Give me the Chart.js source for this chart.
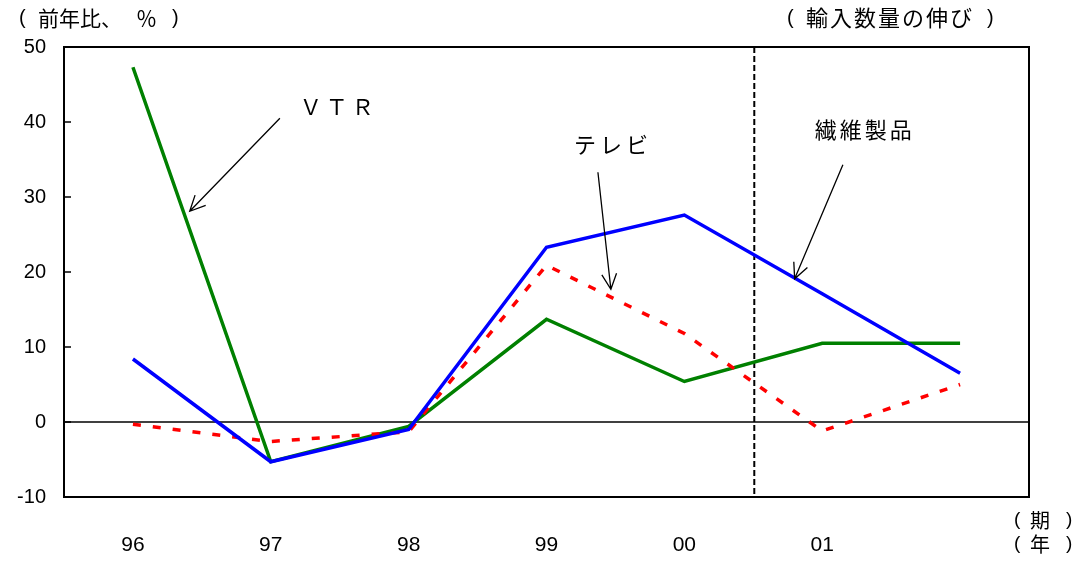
<!DOCTYPE html>
<html>
<head>
<meta charset="utf-8">
<script src="https://cdn.jsdelivr.net/npm/chart.js@4/dist/chart.umd.min.js"></script>
<style>
  html, body { margin: 0; padding: 0; background: #fff; }
  #wrap { width: 1081px; height: 562px; position: relative; }
</style>
</head>
<body>
<div id="wrap"><canvas id="c" width="1081" height="562"></canvas></div>
<script>
// Import volume growth, year on year (%)
const years = ['96', '97', '98', '99', '00', '01', ''];
const textiles = [8.4, -5.3, -1.0, 23.3, 27.6, 17.1, 6.5];   // 繊維製品
const televisions = [-0.3, -2.6, -1.3, 20.9, 11.8, -1.2, 5.0]; // テレビ
const vtr = [47.3, -5.3, -0.6, 13.7, 5.4, 10.5, 10.5];         // ＶＴＲ
const yTicks = [-10, 0, 10, 20, 30, 40, 50];

// Callout labels: text anchor and arrow from/to, in (category index, value) units
const callouts = [
  { text: 'ＶＴＲ', at: [1.21, 42.1], spacing: 4, from: [1.066, 40.5], to: [0.412, 28.1] },
  { text: 'テレビ', at: [3.20, 37.0], spacing: 4, from: [3.373, 33.3], to: [3.467, 17.7] },
  { text: '繊維製品', at: [4.946, 39.0], spacing: 3, from: [5.15, 34.3], to: [4.80, 19.1] }
];

const numFont = '"Liberation Sans", Arial, sans-serif';
const jpFont = '"Noto Sans CJK JP", "Noto Sans", sans-serif';

// draw a run of text pieces at given x positions on one baseline
function pieces(ctx, list, y) {
  list.forEach(([t, x, font, spacing]) => {
    ctx.font = font;
    ctx.letterSpacing = (spacing || 0) + 'px';
    ctx.fillText(t, x, y);
  });
  ctx.letterSpacing = '0px';
}

const decorations = {
  id: 'decorations',
  beforeDatasetsDraw(chart) {
    const { ctx, chartArea: a, scales: { x, y } } = chart;
    ctx.save();
    // zero line
    const y0 = y.getPixelForValue(0);
    ctx.strokeStyle = '#000';
    ctx.lineWidth = 1.5;
    ctx.beginPath();
    ctx.moveTo(a.left, y0);
    ctx.lineTo(a.right, y0);
    ctx.stroke();
    // inward tick marks on the value axis
    yTicks.forEach(v => {
      const py = y.getPixelForValue(v);
      ctx.beginPath();
      ctx.moveTo(a.left, py);
      ctx.lineTo(a.left + 7, py);
      ctx.stroke();
    });
    // period divider between 00 and 01
    const xd = (x.getPixelForValue(4) + x.getPixelForValue(5)) / 2 + 1;
    ctx.lineWidth = 2;
    ctx.setLineDash([6, 3]);
    ctx.beginPath();
    ctx.moveTo(xd, a.top);
    ctx.lineTo(xd, a.bottom);
    ctx.stroke();
    ctx.restore();
  },
  afterDatasetsDraw(chart) {
    const { ctx, chartArea: a, scales: { x, y } } = chart;
    const px = p => [x.getPixelForValue(p[0]), y.getPixelForValue(p[1])];
    ctx.save();
    // plot frame
    ctx.strokeStyle = '#000';
    ctx.lineWidth = 2;
    ctx.strokeRect(a.left, a.top, a.right - a.left, a.bottom - a.top);

    // callouts
    ctx.lineWidth = 1.3;
    ctx.fillStyle = '#000';
    ctx.textBaseline = 'middle';
    ctx.textAlign = 'left';
    callouts.forEach(c => {
      const [x1, y1] = px(c.from);
      const [x2, y2] = px(c.to);
      ctx.beginPath();
      ctx.moveTo(x1, y1);
      ctx.lineTo(x2, y2);
      const ang = Math.atan2(y2 - y1, x2 - x1);
      const len = 17, spread = 0.45;
      ctx.moveTo(x2 - len * Math.cos(ang - spread), y2 - len * Math.sin(ang - spread));
      ctx.lineTo(x2, y2);
      ctx.lineTo(x2 - len * Math.cos(ang + spread), y2 - len * Math.sin(ang + spread));
      ctx.stroke();
      const [tx, ty] = px(c.at);
      pieces(ctx, [[c.text, tx, '22px ' + jpFont, c.spacing]], ty);
    });

    // axis captions
    const jp21 = '21px ' + jpFont, jp22 = '22px ' + jpFont, sans20 = '20px ' + numFont;
    const jp20 = '20px ' + jpFont, sans19 = '19px ' + numFont;
    pieces(ctx, [['(', 19, sans20], ['前年比、', 38, jp21], ['％', 136, jp21], [')', 172, sans20]], 18);
    pieces(ctx, [['(', 787, sans20], ['輸入数量の伸び', 806, jp22, 2], [')', 987, sans20]], 18);
    pieces(ctx, [['(', 1014, sans19], ['期', 1030, jp20], [')', 1066, sans19]], 520);
    pieces(ctx, [['(', 1014, sans19], ['年', 1030, jp20], [')', 1066, sans19]], 544);
    ctx.restore();
  }
};

new Chart(document.getElementById('c'), {
  type: 'line',
  data: {
    labels: years,
    datasets: [
      { label: '繊維製品', data: textiles, borderColor: '#0000ff', borderWidth: 3.5 },
      { label: 'テレビ', data: televisions, borderColor: '#ff0000', borderWidth: 3.5, borderDash: [8, 12] },
      { label: 'ＶＴＲ', data: vtr, borderColor: '#008000', borderWidth: 3.5 }
    ]
  },
  options: {
    responsive: false,
    animation: false,
    events: [],
    layout: { padding: { left: 0, right: 52, top: 47, bottom: 0 } },
    elements: {
      point: { radius: 0 },
      line: { tension: 0, fill: false, borderCapStyle: 'butt', borderJoinStyle: 'miter' }
    },
    plugins: { legend: { display: false }, tooltip: { enabled: false } },
    scales: {
      x: {
        offset: true,
        grid: { display: false, drawTicks: false },
        border: { display: false },
        ticks: { color: '#000', font: { family: numFont, size: 21 }, padding: 36, maxRotation: 0, autoSkip: false },
        afterFit: s => { s.height = 65; }
      },
      y: {
        min: -10,
        max: 50,
        grid: { display: false, drawTicks: false },
        border: { display: false },
        ticks: { stepSize: 10, color: '#000', font: { family: numFont, size: 20 }, padding: 18 },
        afterFit: s => { s.width = 64; }
      }
    }
  },
  plugins: [decorations]
});
</script>
</body>
</html>
